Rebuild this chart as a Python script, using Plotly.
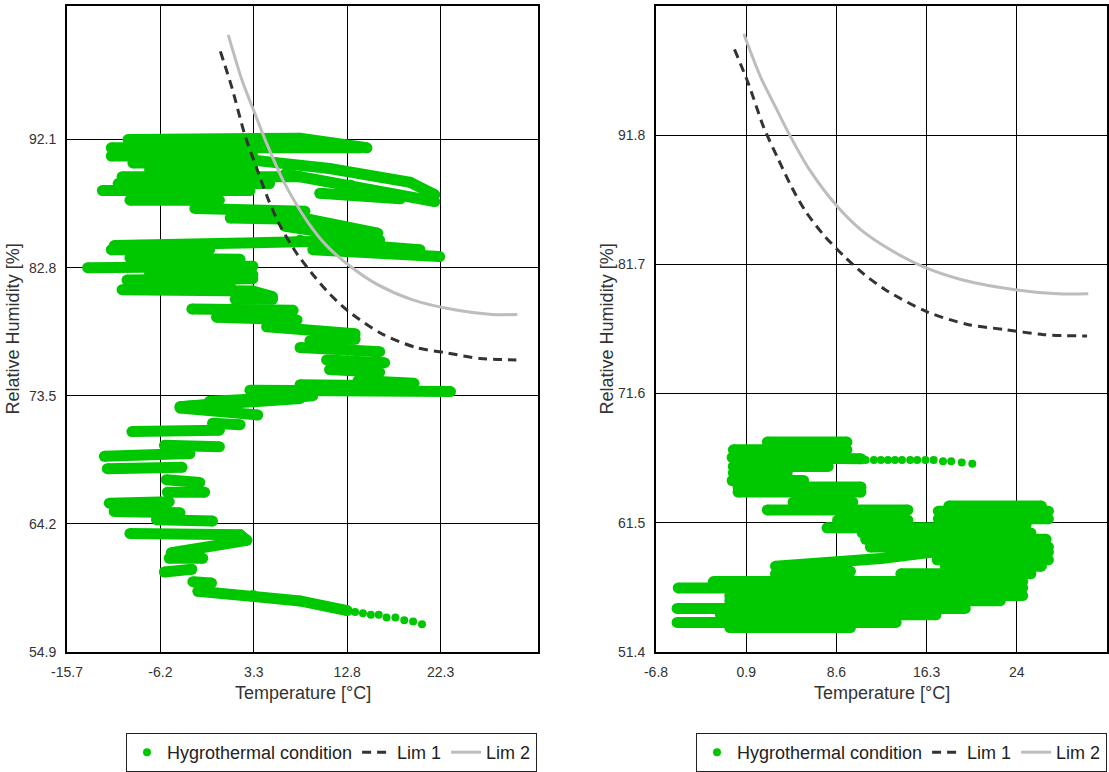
import plotly.graph_objects as go

W, H = 1109, 772
GREEN = "#00c800"
FONT = "Arial, 'Liberation Sans', sans-serif"

# ---------------- data ----------------
# Hygrothermal condition, location A: daily swings drawn as strokes (temperature / RH)
temp_a = [
    [-9.5, 8.0, 14.8], [-11.2, 14.1], [-11.2, 3.2], [-9.0, 3.2],
    [3.2, 11.0, 19.2, 21.7], [6.5, 13.1, 21.7], [10.0, 18.2],
    [-7.3, 3.2], [-10.1, 8.0], [-10.5, 4.9], [-12.1, 2.9], [-9.3, -0.2],
    [-2.7, 8.5], [0.9, 9.0, 15.9], [6.5, 15.6],
    [-10.9, 8.0, 16.1], [11.0, 20.2], [-11.2, -1.2], [9.3, 22.2], [-9.3, 1.9],
    [-13.6, 3.2], [-7.3, 3.2], [-9.6, 3.2], [-7.3, 0.9], [-10.1, 3.2, 5.2],
    [1.4, 5.2], [-3.0, 7.3], [-0.5, 7.7], [4.6, 13.6], [9.0, 13.6],
    [8.0, 16.1], [10.7, 16.6], [11.0, 16.1], [13.9, 19.6], [8.0, 19.2],
    [2.9, 23.3], [-1.2, 8.0], [-4.2, 9.3], [-4.2, 8.0], [-4.2, 3.7], [-0.9, 1.9],
    [-9.1, -0.2], [-5.8, -0.2], [-11.9, -3.2], [-11.6, -4.0], [-5.6, -2.2],
    [-5.5, -1.7], [-11.4, -5.3], [-10.9, -4.2], [-6.6, -0.9],
    [-9.3, 1.9, 2.6, -5.1], [-5.3, -1.9], [-5.8, -3.0], [-2.9, -1.0],
    [-2.4, 3.2, 8.0, 12.8],
]
rh_a = [
    [92.1, 92.2, 91.5], [91.5, 91.5], [90.9, 90.9], [90.4, 90.4],
    [90.6, 90.0, 89.0, 88.1], [89.6, 88.8, 87.6], [88.2, 87.8],
    [89.9, 89.9], [89.4, 89.4], [88.9, 88.9], [88.4, 88.4], [87.7, 87.7],
    [87.1, 86.9], [86.4, 86.3, 85.3], [85.8, 84.8],
    [84.4, 84.8, 84.8], [84.6, 84.1], [84.1, 84.1], [84.1, 83.6], [83.5, 83.4],
    [82.8, 82.9], [82.4, 82.3], [81.9, 82.0], [81.5, 81.6], [81.2, 81.1, 80.7],
    [80.5, 80.5], [79.8, 79.7], [79.2, 79.0], [78.5, 78.0], [77.5, 77.6],
    [77.0, 76.7], [76.1, 75.9], [75.4, 75.2], [74.6, 74.4], [74.3, 74.2],
    [73.9, 73.8], [73.1, 73.4], [72.7, 73.5], [72.7, 73.3], [72.6, 72.1], [71.5, 71.4],
    [70.9, 71.0], [69.9, 69.8], [69.1, 69.3], [68.2, 68.3], [67.4, 67.2],
    [66.5, 66.5], [65.7, 65.8], [65.1, 65.0], [64.5, 64.4],
    [63.5, 63.4, 63.0, 62.1], [61.7, 61.7], [60.7, 60.9], [60.0, 59.9],
    [59.3, 59.0, 58.6, 57.9],
]
tail_temp_a = [13.6, 14.4, 15.2, 16.0, 16.8, 17.7, 18.6, 19.5, 20.4]
tail_rh_a = [57.8, 57.7, 57.6, 57.6, 57.4, 57.4, 57.2, 57.1, 56.9]

# Hygrothermal condition, location B
temp_b = [
    [2.7, 9.5], [-0.2, 9.5], [-0.3, 10.7], [-0.2, 7.9], [-0.2, 4.4],
    [-0.3, 5.8], [0.2, 10.7], [0.2, 10.7], [4.9, 10.0], [2.7, 14.7],
    [8.7, 14.7], [7.8, 17.8],
    [18.2, 26.1], [17.3, 26.7], [17.3, 26.7], [17.8, 24.8], [10.8, 25.2],
    [11.1, 26.5], [11.5, 26.7], [13.2, 26.7],
    [3.4, 12.4, 17.2], [3.4, 9.8],
    [17.2, 26.7], [17.9, 26.1], [14.1, 25.2],
    [-1.9, 24.5], [-4.9, 24.5], [-0.5, 24.5], [-0.5, 22.6], [-5.0, 19.6],
    [-1.3, 17.1], [-5.0, 13.7], [-0.5, 9.8],
]
rh_b = [
    [67.8, 67.8], [67.2, 67.2], [66.6, 66.5], [65.9, 65.9], [65.4, 65.4],
    [64.8, 64.8], [64.3, 64.3], [63.9, 63.9], [63.1, 63.1], [62.5, 62.5],
    [61.7, 61.7], [61.1, 61.1],
    [62.8, 62.8], [62.4, 62.4], [61.8, 61.8], [61.35, 61.35], [60.7, 60.7],
    [60.2, 60.2], [59.6, 59.6], [59.2, 59.2],
    [58.1, 58.7, 59.25], [57.5, 57.7],
    [58.6, 58.6], [58.1, 58.1], [57.5, 57.5],
    [56.9, 56.9], [56.4, 56.4], [55.8, 55.8], [55.4, 55.4], [54.8, 54.8],
    [54.3, 54.3], [53.7, 53.7], [53.3, 53.3],
]
tail_temp_b = [11.1, 11.8, 12.4, 13.0, 13.6, 14.2, 14.9, 15.5, 16.2, 16.9, 17.7, 18.4, 19.3, 20.2]
tail_rh_b = [66.4, 66.4, 66.4, 66.4, 66.4, 66.4, 66.4, 66.4, 66.4, 66.4, 66.3, 66.3, 66.2, 66.1]

# Limit curves
lim1_temp = [-0.1, 1.1, 2.4, 3.6, 4.8, 6.0, 7.6, 9.3, 11.0, 12.8, 16.3, 19.8, 23.0, 26.3, 30.0]
lim1_rh = [98.5, 95.8, 92.4, 90.0, 87.7, 85.8, 83.9, 82.3, 80.9, 79.7, 78.0, 77.0, 76.6, 76.2, 76.1]
lim2_temp = [0.7, 2.1, 3.4, 4.5, 6.3, 8.7, 10.7, 13.1, 15.8, 19.3, 24.0, 27.5, 30.1]
lim2_rh = [99.7, 96.4, 94.0, 92.0, 89.1, 86.2, 84.4, 82.9, 81.6, 80.5, 79.7, 79.4, 79.4]

# Axis ticks
xticks_a = [-15.7, -6.2, 3.3, 12.8, 22.3]
yticks_a = [54.9, 64.2, 73.5, 82.8, 92.1]
xticks_b = [-6.8, 0.9, 8.6, 16.3, 24.0, 31.7]
xticklabels_b = ["-6.8", "0.9", "8.6", "16.3", "24", ""]
yticks_b = [51.4, 61.5, 71.6, 81.7, 91.8, 101.9]
yticklabels_b = ["51.4", "61.5", "71.6", "81.7", "91.8", ""]

STROKE = 11


def joined(strokes):
    out = []
    for s in strokes:
        out.extend(s)
        out.append(None)
    return out


def px_x(p):
    return p / W


def px_y(p):
    return 1 - p / H


fig = go.Figure()

panels = [
    ("x", "y", "legend", temp_a, rh_a, tail_temp_a, tail_rh_a),
    ("x2", "y2", "legend2", temp_b, rh_b, tail_temp_b, tail_rh_b),
]
for xa, ya, lg, st, sr, tt, tr in panels:
    fig.add_trace(go.Scatter(
        x=joined(st), y=joined(sr), xaxis=xa, yaxis=ya,
        mode="lines+markers", connectgaps=False,
        line=dict(color=GREEN, width=STROKE),
        marker=dict(color=GREEN, size=STROKE, line=dict(width=0)),
        showlegend=False, hoverinfo="skip", legend=lg,
    ))
    fig.add_trace(go.Scatter(
        x=tt, y=tr, xaxis=xa, yaxis=ya, mode="markers",
        marker=dict(color=GREEN, size=8, line=dict(width=0)),
        name="Hygrothermal condition", legend=lg,
    ))
    fig.add_trace(go.Scatter(
        x=lim1_temp, y=lim1_rh, xaxis=xa, yaxis=ya, mode="lines",
        line=dict(color="#333333", width=3, dash="9px,6px", shape="spline", smoothing=0.8),
        name="Lim 1", legend=lg,
    ))
    fig.add_trace(go.Scatter(
        x=lim2_temp, y=lim2_rh, xaxis=xa, yaxis=ya, mode="lines",
        line=dict(color="#bdbdbd", width=3, shape="spline", smoothing=0.8),
        name="Lim 2", legend=lg,
    ))

axis_common = dict(
    showgrid=True, gridcolor="#000000", gridwidth=1,
    showline=True, linecolor="#000000", linewidth=2, mirror=True,
    zeroline=False, ticks="", automargin=False,
    tickfont=dict(family=FONT, size=14, color="#333333"),
    tickmode="array",
)

legend_common = dict(
    orientation="h", xanchor="right", y=px_y(739), yanchor="top",
    bgcolor="white", bordercolor="#222222", borderwidth=1,
    font=dict(family=FONT, size=18, color="#222222"), itemwidth=30,
    traceorder="normal",
)

fig.update_layout(
    width=W, height=H,
    margin=dict(l=0, r=0, t=0, b=0),
    paper_bgcolor="white", plot_bgcolor="white",
    font=dict(family=FONT, color="#333333"),
    xaxis=dict(axis_common, domain=[px_x(67), px_x(538)], range=[-15.7, 32.2],
               tickvals=xticks_a, ticktext=[str(v) for v in xticks_a], anchor="y",
               ticklabelstandoff=6),
    yaxis=dict(axis_common, domain=[px_y(657), px_y(6)], range=[54.9, 101.8],
               tickvals=yticks_a, ticktext=[str(v) for v in yticks_a], anchor="x",
               ticklabelstandoff=6),
    xaxis2=dict(axis_common, domain=[px_x(656), px_x(1107)], range=[-6.8, 31.7],
                tickvals=xticks_b, ticktext=xticklabels_b, anchor="y2",
                ticklabelstandoff=6),
    yaxis2=dict(axis_common, domain=[px_y(657), px_y(6)], range=[51.4, 101.9],
                tickvals=yticks_b, ticktext=yticklabels_b, anchor="x2",
                ticklabelstandoff=6),
    legend=dict(legend_common, x=px_x(537)),
    legend2=dict(legend_common, x=px_x(1107)),
)

title_font = dict(family=FONT, size=18, color="#333333")
annotations = [
    dict(text="Temperature [°C]", x=px_x(302.5), y=px_y(698)),
    dict(text="Temperature [°C]", x=px_x(881.5), y=px_y(698)),
    dict(text="Relative Humidity [%]", x=px_x(13), y=px_y(332), textangle=-90),
    dict(text="Relative Humidity [%]", x=px_x(607), y=px_y(332), textangle=-90),
]
for a in annotations:
    fig.add_annotation(xref="paper", yref="paper", showarrow=False,
                       xanchor="center", yanchor="middle", font=title_font, **a)

fig.write_html("out.html")
